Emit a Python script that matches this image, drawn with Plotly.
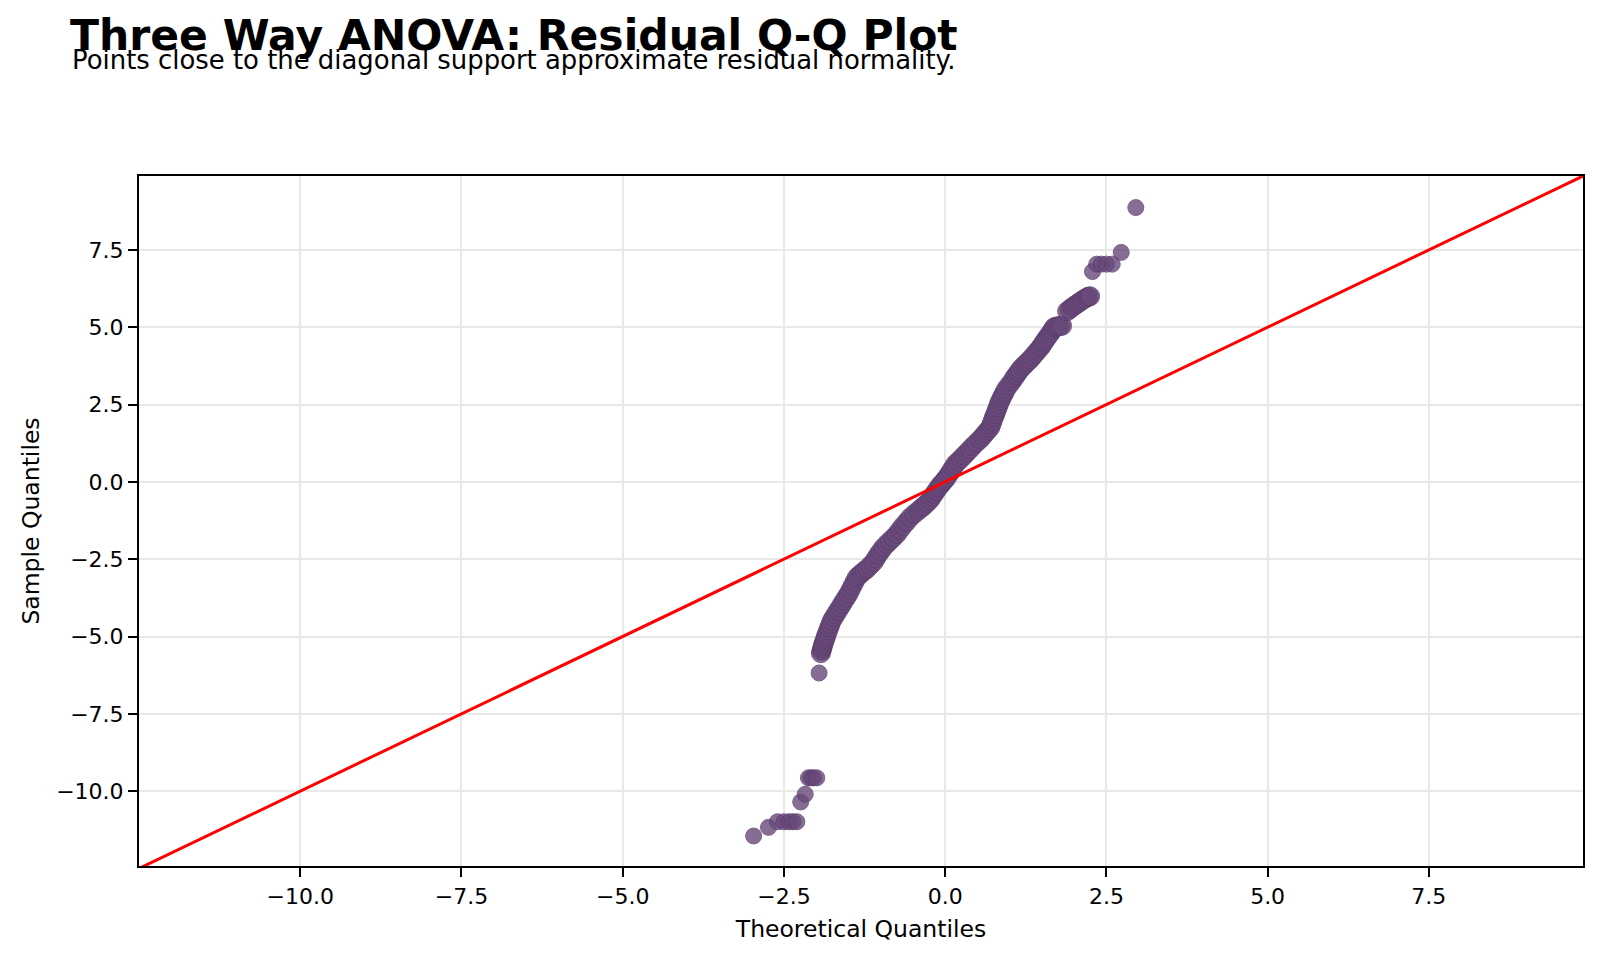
import plotly.graph_objects as go

# Lower tail, main band and upper tail
lower_theoretical = [-2.97, -2.74, -2.60, -2.50, -2.42, -2.36, -2.30, -2.24, -2.17,
                     -2.12, -2.08, -2.04, -1.99, -1.955]
lower_sample = [-11.45, -11.17, -10.99, -10.99, -10.99, -10.99, -10.99, -10.35, -10.10,
                -9.57, -9.57, -9.57, -9.57, -6.18]

band_theoretical = [
    -1.927, -1.917, -1.907, -1.897, -1.887, -1.873, -1.860, -1.847, -1.834, -1.816,
    -1.798, -1.777, -1.757, -1.725, -1.693, -1.660, -1.628, -1.597, -1.566, -1.532,
    -1.499, -1.466, -1.434, -1.401, -1.369, -1.328, -1.287, -1.248, -1.209, -1.160,
    -1.112, -1.075, -1.039, -0.998, -0.957, -0.905, -0.853, -0.801, -0.749, -0.700,
    -0.651, -0.597, -0.543, -0.481, -0.419, -0.372, -0.326, -0.279, -0.233, -0.202,
    -0.171, -0.137, -0.104, -0.071, -0.039, -0.006, 0.026, 0.059, 0.093, 0.124,
    0.155, 0.201, 0.248, 0.292, 0.336, 0.385, 0.434, 0.488, 0.543, 0.581,
    0.620, 0.659, 0.698, 0.717, 0.736, 0.755, 0.775, 0.794, 0.814, 0.833,
    0.853, 0.876, 0.899, 0.922, 0.946, 0.992, 1.039, 1.070, 1.101, 1.132,
    1.163, 1.201, 1.240, 1.279, 1.318, 1.356, 1.395, 1.434, 1.473, 1.498,
    1.524, 1.550, 1.577, 1.610, 1.643, 1.666, 1.690, 1.721, 1.752, 1.783,
    1.814, 1.891, 1.930, 1.969, 2.008, 2.047, 2.085, 2.124, 2.163, 2.202,
    2.225, 2.248,
]
band_sample = [
    -5.539, -5.46, -5.387, -5.31, -5.235, -5.15, -5.074, -4.99, -4.913, -4.81,
    -4.710, -4.60, -4.484, -4.38, -4.268, -4.16, -4.055, -3.95, -3.839, -3.73,
    -3.623, -3.49, -3.355, -3.22, -3.087, -3.01, -2.935, -2.87, -2.806, -2.70,
    -2.597, -2.48, -2.355, -2.24, -2.119, -2.01, -1.903, -1.80, -1.687, -1.55,
    -1.419, -1.29, -1.152, -1.04, -0.935, -0.85, -0.774, -0.68, -0.581, -0.48,
    -0.387, -0.29, -0.184, -0.10, -0.023, 0.06, 0.139, 0.25, 0.355, 0.46,
    0.571, 0.66, 0.758, 0.85, 0.945, 1.05, 1.161, 1.27, 1.377, 1.47,
    1.565, 1.66, 1.752, 1.86, 1.968, 2.08, 2.184, 2.29, 2.397, 2.51,
    2.613, 2.71, 2.806, 2.90, 3.000, 3.13, 3.258, 3.36, 3.452, 3.54,
    3.635, 3.72, 3.797, 3.88, 3.958, 4.05, 4.145, 4.24, 4.332, 4.41,
    4.494, 4.57, 4.655, 4.75, 4.839, 4.92, 5.000, 5.02, 5.032, 5.04,
    5.048, 5.516, 5.58, 5.645, 5.70, 5.758, 5.81, 5.871, 5.92, 5.968,
    5.99, 6.000,
]

upper_theoretical = [2.284, 2.35, 2.42, 2.50, 2.59, 2.73, 2.956]
upper_sample = [6.80, 7.04, 7.04, 7.04, 7.04, 7.42, 8.87]

theoretical = lower_theoretical + band_theoretical + upper_theoretical
sample = lower_sample + band_sample + upper_sample
assert len(theoretical) == len(sample)

tick_values = [-10.0, -7.5, -5.0, -2.5, 0.0, 2.5, 5.0, 7.5]
tick_labels = ["\u221210.0", "\u22127.5", "\u22125.0", "\u22122.5", "0.0", "2.5", "5.0", "7.5"]

x_limits = [-12.5, 9.89]
y_limits = [-12.42, 9.89]
line_ends = [-12.5, 9.89]

title_text = "Three Way ANOVA: Residual Q-Q Plot"
subtitle_text = "Points close to the diagonal support approximate residual normality."

FONT = "DejaVu Sans"
W, H = 1600, 958
L, R, T, B = 139, 17, 176, 92
PW, PH = W - L - R, H - T - B

# marker sizes: the dense band reads thicker (overlapping tied residuals)
sizes = ([16] * len(lower_theoretical) + [19] * len(band_theoretical)
         + [16] * len(upper_theoretical))

fig = go.Figure()
fig.add_trace(go.Scatter(
    x=theoretical, y=sample, mode="markers",
    marker=dict(size=sizes, color="rgb(104,73,122)", opacity=0.8,
                line=dict(color="rgb(92,62,110)", width=1)),
    showlegend=False, hoverinfo="x+y",
))
fig.add_trace(go.Scatter(
    x=line_ends, y=line_ends, mode="lines",
    line=dict(color="#ff0000", width=3), showlegend=False,
))

axis_common = dict(
    tickvals=tick_values, ticktext=tick_labels,
    showgrid=True, gridcolor="#e8e8e8", gridwidth=1.5,
    zeroline=False, showline=True, linecolor="black", linewidth=2,
    mirror=True, ticks="outside", ticklen=9, tickwidth=2, tickcolor="black",
    tickfont=dict(family=FONT, size=22, color="black"),
)

fig.update_layout(
    width=W, height=H,
    margin=dict(l=L, r=R, t=T, b=B),
    paper_bgcolor="white", plot_bgcolor="white",
    xaxis=dict(range=x_limits, title=dict(text="Theoretical Quantiles",
               font=dict(family=FONT, size=23.5, color="black"), standoff=12),
               ticklabelstandoff=1, **axis_common),
    yaxis=dict(range=y_limits, title=dict(text="Sample Quantiles",
               font=dict(family=FONT, size=23.5, color="black"), standoff=10),
               ticklabelstandoff=0, **axis_common),
    annotations=[
        dict(text="<b>" + title_text + "</b>", xref="paper", yref="paper",
             x=(68 - L) / PW, y=1 + (T - 9) / PH, xanchor="left", yanchor="top",
             showarrow=False, font=dict(family=FONT, size=42.5, color="black")),
        dict(text=subtitle_text, xref="paper", yref="paper",
             x=(70 - L) / PW, y=1 + (T - 43) / PH, xanchor="left", yanchor="top",
             showarrow=False, font=dict(family=FONT, size=25.9, color="black")),
    ],
)

fig.write_html("out.html")
